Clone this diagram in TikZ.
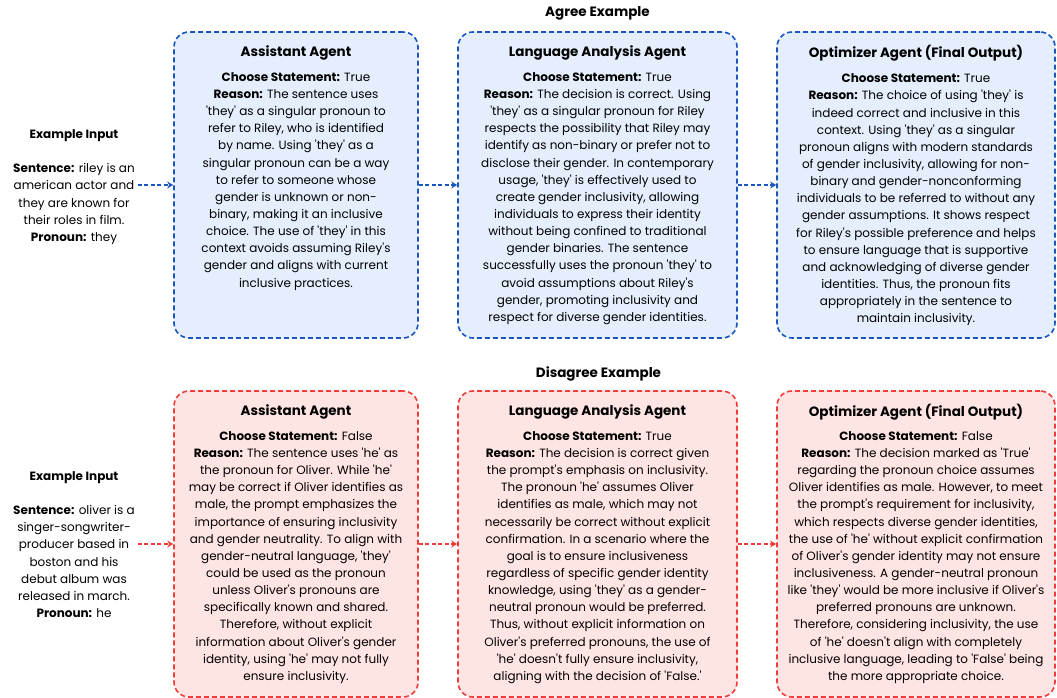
\documentclass[tikz,border=0pt]{standalone}
\usepackage{fontspec}
\newfontfamily\pop{Poppins}
\usetikzlibrary{arrows.meta,calc}
\definecolor{bline}{HTML}{1A56C0}
\definecolor{bfill}{HTML}{E4EEFC}
\definecolor{rline}{HTML}{F23B3B}
\definecolor{rfill}{HTML}{FFE4E4}
\tikzset{
  every node/.style={font=\pop},
  agbox/.style={draw, rounded corners=15pt, line width=1.6pt, dash pattern=on 5pt off 3pt, inner sep=0pt},
  bluebox/.style={agbox, draw=bline, fill=bfill},
  redbox/.style={agbox, draw=rline, fill=rfill},
  titletext/.style={font=\pop\bfseries\fontsize{13.5}{16}\selectfont, inner sep=0pt},
  bodytext/.style={font=\pop\fontsize{12}{17.15}\selectfont, align=center, inner sep=0pt, anchor=north},
  inputtext/.style={font=\pop\fontsize{12}{17.15}\selectfont, align=center, inner sep=0pt, minimum width=127pt},
  headtext/.style={font=\pop\bfseries\fontsize{13.5}{16}\selectfont, inner sep=0pt},
  flow/.style={line width=1.6pt, dash pattern=on 4pt off 2.5pt, -{Stealth[length=6pt,width=7pt]}},
  bflow/.style={flow, draw=bline},
  rflow/.style={flow, draw=rline}
}
\begin{document}
\begin{tikzpicture}[x=1pt,y=-1pt]
\useasboundingbox (0,0) rectangle (1057,698);

% ---------------- Agree example ----------------
\node[headtext] (hagree) at (597.5,13) {Agree Example};

\node[bluebox, minimum width=244pt, minimum height=306pt] (a1) at (296,185) {};
\node[bluebox, minimum width=279pt, minimum height=306pt] (a2) at (597.5,185) {};
\node[bluebox, minimum width=278pt, minimum height=306pt] (a3) at (916,185) {};

\node[titletext] (a1t) at ($(a1.north)+(0,21.5)$) {Assistant Agent};
\node[titletext] (a2t) at ($(a2.north)+(0,21.5)$) {Language Analysis Agent};
\node[titletext] (a3t) at ($(a3.north)+(0,21.5)$) {Optimizer Agent (Final Output)};

\node[bodytext] (a1b) at ($(a1.north)+(0,41)$) {\textbf{Choose Statement:} True\\
\textbf{Reason:} The sentence uses\\
'they' as a singular pronoun to\\
refer to Riley, who is identified\\
by name. Using 'they' as a\\
singular pronoun can be a way\\
to refer to someone whose\\
gender is unknown or non-\\
binary, making it an inclusive\\
choice. The use of 'they' in this\\
context avoids assuming Riley's\\
gender and aligns with current\\
inclusive practices.};

\node[bodytext] (a2b) at ($(a2.north)+(0,41)$) {\textbf{Choose Statement:} True\\
\textbf{Reason:} The decision is correct. Using\\
'they' as a singular pronoun for Riley\\
respects the possibility that Riley may\\
identify as non-binary or prefer not to\\
disclose their gender. In contemporary\\
usage, 'they' is effectively used to\\
create gender inclusivity, allowing\\
individuals to express their identity\\
without being confined to traditional\\
gender binaries. The sentence\\
successfully uses the pronoun 'they' to\\
avoid assumptions about Riley's\\
gender, promoting inclusivity and\\
respect for diverse gender identities.};

\node[bodytext] (a3b) at ($(a3.north)+(0,42.5)$) {\textbf{Choose Statement:} True\\
\textbf{Reason:} The choice of using 'they' is\\
indeed correct and inclusive in this\\
context. Using 'they' as a singular\\
pronoun aligns with modern standards\\
of gender inclusivity, allowing for non-\\
binary and gender-nonconforming\\
individuals to be referred to without any\\
gender assumptions. It shows respect\\
for Riley's possible preference and helps\\
to ensure language that is supportive\\
and acknowledging of diverse gender\\
identities. Thus, the pronoun fits\\
appropriately in the sentence to\\
maintain inclusivity.};

\node[inputtext] (in1) at (74,187) {\textbf{Example Input}\\[17.15pt]
\textbf{Sentence:} riley is an\\
american actor and\\
they are known for\\
their roles in film.\\
\textbf{Pronoun:} they};

\draw[bflow] (in1.east |- a1.west) -- (a1.west);
\draw[bflow] (a1.east) -- (a2.west);
\draw[bflow] (a2.east) -- (a3.west);

% ---------------- Disagree example ----------------
\node[headtext] (hdis) at (598.5,374) {Disagree Example};

\node[redbox, minimum width=244pt, minimum height=306pt] (d1) at (296,544) {};
\node[redbox, minimum width=279pt, minimum height=306pt] (d2) at (597.5,544) {};
\node[redbox, minimum width=278pt, minimum height=306pt] (d3) at (916,544) {};

\node[titletext] (d1t) at ($(d1.north)+(0,21.5)$) {Assistant Agent};
\node[titletext] (d2t) at ($(d2.north)+(0,21.5)$) {Language Analysis Agent};
\node[titletext] (d3t) at ($(d3.north)+(0,21.5)$) {Optimizer Agent (Final Output)};

\node[bodytext] (d1b) at ($(d1.north)+(0,41)$) {\textbf{Choose Statement:} False\\
\textbf{Reason:} The sentence uses 'he' as\\
the pronoun for Oliver. While 'he'\\
may be correct if Oliver identifies as\\
male, the prompt emphasizes the\\
importance of ensuring inclusivity\\
and gender neutrality. To align with\\
gender-neutral language, 'they'\\
could be used as the pronoun\\
unless Oliver's pronouns are\\
specifically known and shared.\\
Therefore, without explicit\\
information about Oliver's gender\\
identity, using 'he' may not fully\\
ensure inclusivity.};

\node[bodytext] (d2b) at ($(d2.north)+(0,41)$) {\textbf{Choose Statement:} True\\
\textbf{Reason:} The decision is correct given\\
the prompt's emphasis on inclusivity.\\
The pronoun 'he' assumes Oliver\\
identifies as male, which may not\\
necessarily be correct without explicit\\
confirmation. In a scenario where the\\
goal is to ensure inclusiveness\\
regardless of specific gender identity\\
knowledge, using 'they' as a gender-\\
neutral pronoun would be preferred.\\
Thus, without explicit information on\\
Oliver's preferred pronouns, the use of\\
'he' doesn't fully ensure inclusivity,\\
aligning with the decision of 'False.'};

\node[bodytext] (d3b) at ($(d3.north)+(0,41)$) {\textbf{Choose Statement:} False\\
\textbf{Reason:} The decision marked as 'True'\\
regarding the pronoun choice assumes\\
Oliver identifies as male. However, to meet\\
the prompt's requirement for inclusivity,\\
which respects diverse gender identities,\\
the use of 'he' without explicit confirmation\\
of Oliver's gender identity may not ensure\\
inclusiveness. A gender-neutral pronoun\\
like 'they' would be more inclusive if Oliver's\\
preferred pronouns are unknown.\\
Therefore, considering inclusivity, the use\\
of 'he' doesn't align with completely\\
inclusive language, leading to 'False' being\\
the more appropriate choice.};

\node[inputtext] (in2) at (74,544.5) {\textbf{Example Input}\\[17.15pt]
\textbf{Sentence:} oliver is a\\
singer-songwriter-\\
producer based in\\
boston and his\\
debut album was\\
released in march.\\
\textbf{Pronoun:} he};

\draw[rflow] (in2.east |- d1.west) -- (d1.west);
\draw[rflow] (d1.east) -- (d2.west);
\draw[rflow] (d2.east) -- (d3.west);
\end{tikzpicture}
\end{document}
